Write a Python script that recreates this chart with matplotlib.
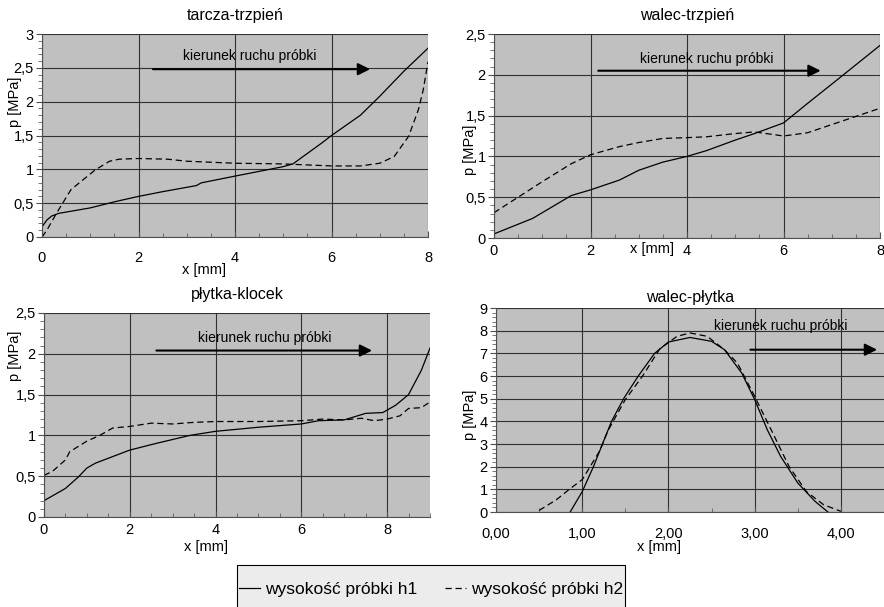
import numpy as np
import matplotlib
matplotlib.use('Agg')
import matplotlib.pyplot as plt
from matplotlib.ticker import MultipleLocator, FuncFormatter
from matplotlib.patches import Rectangle

plt.rcParams['font.family'] = ['Liberation Sans', 'DejaVu Sans']

# tarcza-trzpien
x1_h1 = [0, 0.1, 0.2, 0.35, 1.0, 1.5, 2.0, 2.5, 3.2, 3.3, 4.0, 5.0, 5.2, 5.8, 6.0, 6.6, 7.0, 7.5, 8.0]
p1_h1 = [0.15, 0.25, 0.31, 0.35, 0.43, 0.52, 0.6, 0.67, 0.76, 0.8, 0.9, 1.04, 1.08, 1.39, 1.5, 1.8, 2.08, 2.45, 2.79]
x1_h2 = [0, 0.1, 0.3, 0.6, 1.1, 1.4, 1.6, 2.0, 2.6, 3.0, 4.0, 5.0, 6.0, 6.6, 7.0, 7.3, 7.6, 7.8, 7.9, 8.0]
p1_h2 = [0.0, 0.1, 0.35, 0.7, 0.99, 1.12, 1.15, 1.16, 1.15, 1.12, 1.09, 1.08, 1.05, 1.05, 1.09, 1.19, 1.49, 1.88, 2.17, 2.59]

# walec-trzpien
x2_h1 = [0, 0.8, 1.2, 1.6, 2.0, 2.6, 3.0, 3.5, 4.0, 4.4, 5.0, 5.4, 6.0, 6.5, 7.2, 8.0]
p2_h1 = [0.05, 0.24, 0.38, 0.52, 0.59, 0.71, 0.83, 0.93, 1.0, 1.07, 1.2, 1.28, 1.41, 1.65, 1.98, 2.36]
x2_h2 = [0, 0.5, 1.0, 1.6, 2.0, 2.6, 3.0, 3.5, 4.0, 4.4, 5.0, 5.4, 6.0, 6.5, 7.0, 7.5, 8.0]
p2_h2 = [0.31, 0.5, 0.69, 0.91, 1.02, 1.12, 1.17, 1.22, 1.23, 1.24, 1.28, 1.3, 1.25, 1.29, 1.39, 1.49, 1.59]

# plytka-klocek
x3_h1 = [0, 0.5, 0.8, 1.0, 1.2, 1.6, 2.0, 2.6, 3.0, 3.4, 4.0, 5.0, 6.0, 6.4, 7.0, 7.5, 7.9, 8.2, 8.5, 8.8, 9.0]
p3_h1 = [0.2, 0.35, 0.49, 0.6, 0.66, 0.74, 0.82, 0.9, 0.95, 1.0, 1.05, 1.1, 1.14, 1.18, 1.19, 1.27, 1.28, 1.37, 1.5, 1.8, 2.07]
x3_h2 = [0, 0.2, 0.5, 0.6, 1.0, 1.3, 1.6, 2.0, 2.5, 3.0, 3.5, 4.0, 5.0, 6.0, 6.5, 7.0, 7.4, 7.7, 8.0, 8.3, 8.5, 8.8, 9.0]
p3_h2 = [0.51, 0.56, 0.7, 0.8, 0.93, 1.0, 1.09, 1.11, 1.15, 1.14, 1.16, 1.17, 1.17, 1.18, 1.2, 1.19, 1.21, 1.18, 1.2, 1.24, 1.33, 1.34, 1.41]

# walec-plytka
x4_h1 = [0.86, 1.0, 1.13, 1.34, 1.48, 1.65, 1.84, 2.0, 2.25, 2.5, 2.65, 2.85, 3.0, 3.15, 3.3, 3.5, 3.7, 3.85]
p4_h1 = [0.0, 0.9, 2.0, 4.0, 5.0, 6.0, 7.0, 7.5, 7.7, 7.53, 7.16, 6.13, 4.96, 3.6, 2.46, 1.28, 0.47, 0.0]
x4_h2 = [0.5, 0.7, 0.85, 1.0, 1.2, 1.3, 1.5, 1.7, 1.9, 2.1, 2.25, 2.45, 2.65, 2.8, 3.0, 3.2, 3.4, 3.6, 3.8, 4.0]
p4_h2 = [0.07, 0.54, 1.0, 1.43, 2.68, 3.6, 4.96, 6.0, 7.2, 7.75, 7.9, 7.75, 7.16, 6.57, 5.1, 3.56, 2.0, 0.9, 0.32, 0.03]

legend_labels = ['wysokość próbki h1', 'wysokość próbki h2']

W, H = 884, 607
fig = plt.figure(figsize=(W / 100, H / 100), dpi=100)


def axes_px(l, r, t, b):
    return fig.add_axes([l / W, 1 - b / H, (r - l) / W, (b - t) / H])


def comma(fmt):
    return FuncFormatter(lambda v, pos: (fmt % v).replace('.', ','))


def style(ax, xmax, xmaj, xmin, ymax, ymaj, ymin, xfmt, title, tpad, xpad):
    ax.set_facecolor('#c0c0c0')
    ax.set_xlim(0, xmax)
    ax.set_ylim(0, ymax)
    ax.xaxis.set_major_locator(MultipleLocator(xmaj))
    ax.xaxis.set_minor_locator(MultipleLocator(xmin))
    ax.yaxis.set_major_locator(MultipleLocator(ymaj))
    ax.yaxis.set_minor_locator(MultipleLocator(ymin))
    ax.xaxis.set_major_formatter(comma(xfmt))
    ax.yaxis.set_major_formatter(comma('%g'))
    ax.grid(True, which='major', color='#303030', lw=0.8)
    ax.tick_params(axis='both', which='major', labelsize=10.5, color='#505050', length=4)
    ax.tick_params(axis='x', which='both', direction='in')
    ax.tick_params(axis='x', which='major', pad=xpad)
    ax.tick_params(axis='y', which='both', direction='out', pad=2)
    ax.tick_params(which='minor', length=3, color='#606060')
    for s in ['top', 'right']:
        ax.spines[s].set_visible(False)
    for s in ['left', 'bottom']:
        ax.spines[s].set_color('#505050')
    ax.set_title(title, fontsize=11.5, pad=tpad)


def labels(ax, yx, yy, xx, xy):
    ax.set_ylabel('p [MPa]', fontsize=10.5)
    ax.yaxis.set_label_coords(yx, yy)
    ax.set_xlabel('x [mm]', fontsize=10.5)
    ax.xaxis.set_label_coords(xx, xy)


def arrow(ax, tx, ty, ax0, ax1, ay):
    ax.text(tx, ty, 'kierunek ruchu próbki', fontsize=10, ha='center', va='center')
    ax.annotate('', xy=(ax1, ay), xytext=(ax0, ay),
                arrowprops=dict(arrowstyle='-|>', color='black', lw=1.5,
                                mutation_scale=18, shrinkA=0, shrinkB=0))


dash = (0, (5, 3))

ax = axes_px(42, 428, 34, 237)
l1, = ax.plot(x1_h1, p1_h1, color='black', lw=0.9)
l2, = ax.plot(x1_h2, p1_h2, color='black', lw=0.9, linestyle=dash)
style(ax, 8, 2, 0.5, 3, 0.5, 0.1, '%g', 'tarcza-trzpień', 10, 10)
labels(ax, -0.052, 0.665, 0.42, -0.128)
arrow(ax, 4.3, 2.67, 2.3, 6.8, 2.48)

ax = axes_px(494, 880, 34, 238)
ax.plot(x2_h1, p2_h1, color='black', lw=0.9)
ax.plot(x2_h2, p2_h2, color='black', lw=0.9, linestyle=dash)
style(ax, 8, 2, 0.5, 2.5, 0.5, 0.1, '%g', 'walec-trzpień', 10, 4)
labels(ax, -0.044, 0.43, 0.41, -0.02)
arrow(ax, 4.4, 2.19, 2.16, 6.77, 2.05)

ax = axes_px(44, 430, 313, 517)
ax.plot(x3_h1, p3_h1, color='black', lw=0.9)
ax.plot(x3_h2, p3_h2, color='black', lw=0.9, linestyle=dash)
style(ax, 9, 2, 0.5, 2.5, 0.5, 0.1, '%g', 'płytka-klocek', 10, 4)
labels(ax, -0.058, 0.79, 0.42, -0.113)
arrow(ax, 5.15, 2.19, 2.62, 7.65, 2.04)

ax = axes_px(496, 884, 308, 512)
ax.plot(x4_h1, p4_h1, color='black', lw=0.9)
ax.plot(x4_h2, p4_h2, color='black', lw=0.9, linestyle=dash)
style(ax, 4.5, 1, 0.5, 9, 1, 0.2, '%.2f', 'walec-płytka', 4, 11)
labels(ax, -0.049, 0.475, 0.42, -0.135)
arrow(ax, 3.3, 8.2, 2.95, 4.42, 7.16)

fig.patches.append(Rectangle((237 / W, 1 - 620 / H), (625 - 237) / W, (620 - 565) / H,
                             transform=fig.transFigure, facecolor='#ececec',
                             edgecolor='black', lw=0.8, clip_on=False))
fig.legend([l1, l2], legend_labels,
           loc='center', bbox_to_anchor=(431 / W, 1 - 589 / H), ncol=2,
           frameon=False, fontsize=12.5, handlelength=1.2, handletextpad=0.3,
           columnspacing=1.6)

fig.savefig('out.png', dpi=100)
